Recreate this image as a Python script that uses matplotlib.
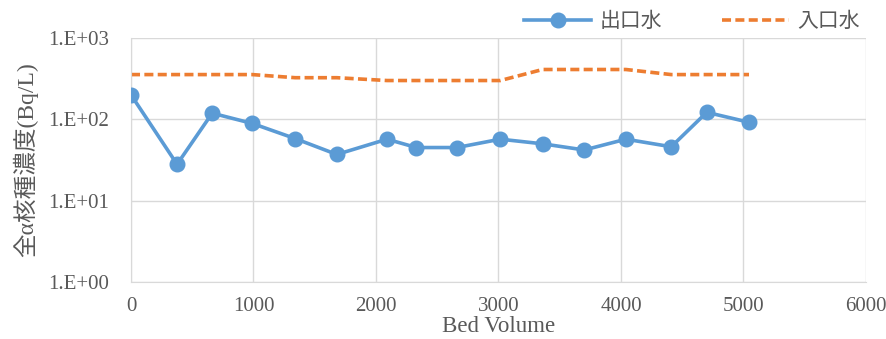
import matplotlib
matplotlib.use("Agg")
import matplotlib.pyplot as plt
from matplotlib.ticker import FixedLocator, FixedFormatter

# data
bed_volume = [0, 376, 663, 990, 1340, 1680, 2090, 2330, 2660, 3015,
              3360, 3700, 4040, 4410, 4700, 5045]
outlet = [200, 28, 119, 89, 58, 37, 57, 45, 45, 57,
          50, 42, 57, 46, 122, 92]
inlet = [355, 355, 355, 355, 325, 325, 300, 300, 300, 300,
         410, 410, 410, 355, 355, 355]

y_ticks = [1, 10, 100, 1000]
y_labels = ["1.E+00", "1.E+01", "1.E+02", "1.E+03"]

text_color = "#595959"
grid_color = "#d9d9d9"
serif = ["Liberation Serif", "Noto Sans CJK JP"]

fig = plt.figure(figsize=(8.87, 3.39), dpi=100)
ax = fig.add_axes([131 / 887, 1 - 282 / 339, (866 - 131) / 887, (282 - 38) / 339])

ax.plot(bed_volume, outlet, color="#5B9BD5", lw=2.6, marker="o", ms=10.5,
        label="出口水", zorder=3)
ax.plot(bed_volume, inlet, color="#ED7D31", lw=2.6, ls=(0, (2.5, 1.2)),
        label="入口水", zorder=2)

ax.set_yscale("log")
ax.set_ylim(1, 1000)
ax.set_xlim(0, 6000)
ax.set_xticks(range(0, 6001, 1000))
ax.yaxis.set_major_locator(FixedLocator(y_ticks))
ax.yaxis.set_major_formatter(FixedFormatter(y_labels))
ax.yaxis.set_minor_locator(FixedLocator([]))

ax.grid(True, color=grid_color, lw=1)
ax.set_axisbelow(True)
for side in ["top", "right"]:
    ax.spines[side].set_visible(False)
for side in ["left", "bottom"]:
    ax.spines[side].set_color(grid_color)
ax.tick_params(axis="y", length=0, pad=16, colors=text_color, labelsize=15)
ax.tick_params(axis="x", length=0, pad=11, colors=text_color, labelsize=15)
for lab in ax.get_xticklabels() + ax.get_yticklabels():
    lab.set_family(serif)

ax.set_xlabel("Bed Volume", family=serif, fontsize=16.5, color=text_color, labelpad=0)
ax.set_ylabel("全α核種濃度(Bq/L)", family=serif, fontsize=17, color=text_color,
              labelpad=7)

leg = fig.legend(loc="center", bbox_to_anchor=(692 / 887, 1 - 22 / 339), ncol=2,
                 frameon=False, prop={"family": serif, "size": 15},
                 handlelength=3.2, columnspacing=2.9, handletextpad=0.4)
for t in leg.get_texts():
    t.set_color(text_color)

fig.savefig("out.png", dpi=100)
